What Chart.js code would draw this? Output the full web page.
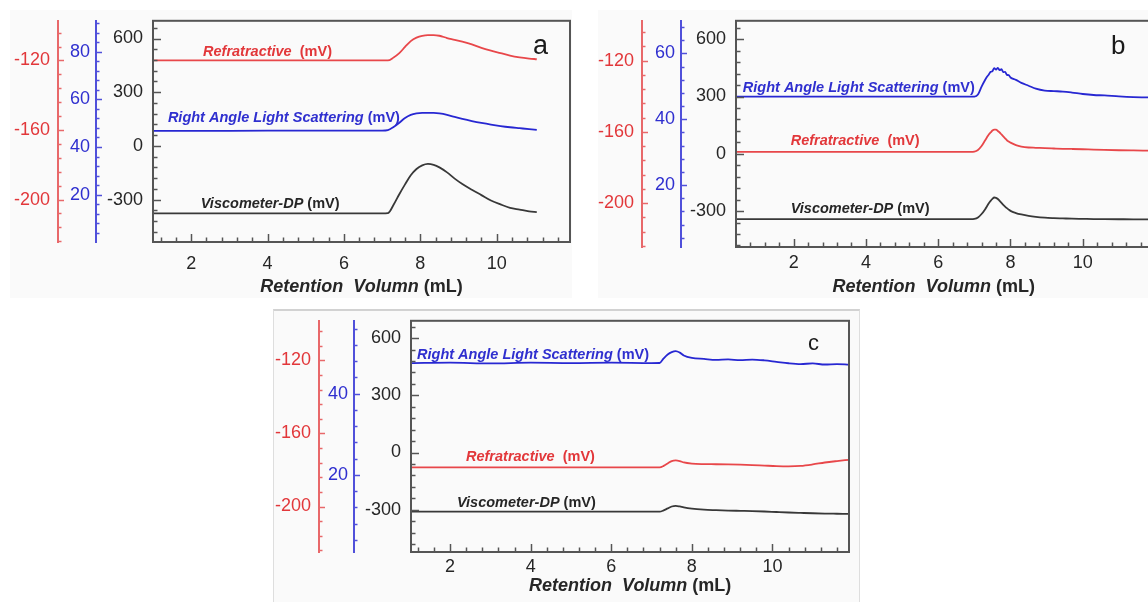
<!DOCTYPE html>
<html><head><meta charset="utf-8">
<script src="https://cdn.jsdelivr.net/npm/chart.js@4.4.1/dist/chart.umd.min.js"></script>
<style>
html,body{margin:0;padding:0;background:#fff;width:1148px;height:602px;overflow:hidden;position:relative;}
.panel{position:absolute;background:#fafafa;box-sizing:border-box;}
canvas{position:absolute;}
</style></head><body>
<div class="panel" style="left:10px;top:10px;width:562px;height:288px;"></div>
<div class="panel" style="left:598px;top:10px;width:552px;height:288px;"></div>
<div class="panel" style="left:273px;top:309px;width:587px;height:293px;border-top:2px solid #d2d2d2;border-left:1px solid #dedede;border-right:1px solid #dedede;"></div>
<canvas id="ca" width="585" height="300" style="left:0;top:0"></canvas>
<canvas id="cb" width="590" height="300" style="left:590px;top:0"></canvas>
<canvas id="cc" width="590" height="302" style="left:270px;top:300px"></canvas>
<script>
// ---------- data (retention volume in mL, detector signals in mV) ----------
// Panel a
const volA  = [1.0, 3.0, 5.0, 7.0, 7.15, 7.3, 7.45, 7.6, 7.75, 7.9, 8.05, 8.2, 8.35, 8.5, 8.7, 8.9, 9.1, 9.35, 9.6, 9.85, 10.1, 10.35, 10.6, 10.85, 11.05];
const refrA = [-120, -120, -120, -120, -120, -118.3, -115.8, -112.2, -108.9, -106.9, -105.8, -105.4, -105.4, -105.8, -107.1, -108.1, -109.2, -110.8, -112.8, -114.4, -115.8, -117.2, -118.2, -118.9, -119.3];
const ralsA = [46.8, 46.8, 46.9, 46.9, 47.1, 48.4, 50.2, 52.2, 53.5, 54.1, 54.3, 54.3, 54.3, 54.1, 53.5, 52.6, 51.8, 50.9, 50.1, 49.4, 48.8, 48.3, 47.9, 47.5, 47.2];
const viscA = [-377, -377, -377, -377, -376, -329, -270, -215, -164, -129, -109, -101, -106, -120, -148, -183, -213, -245, -275, -305, -327, -346, -356, -366, -370];
// Panel b
const volB  = [0.4, 2, 4, 6, 6.9, 7.0, 7.1, 7.2, 7.3, 7.35, 7.4, 7.45, 7.5, 7.55, 7.6, 7.65, 7.7, 7.75, 7.8, 7.85, 7.9, 7.95, 8.0, 8.15, 8.3, 8.5, 8.7, 8.95, 9.2, 9.45, 9.7, 10.0, 10.3, 10.6, 11.0, 11.4, 11.9];
const refrB = [-171.25, -171.25, -171.25, -171.25, -171.25, -171.09, -170.16, -167.98, -164.71, -163.08, -161.44, -160.35, -159.26, -158.71, -158.71, -159.53, -160.35, -161.44, -162.53, -163.62, -164.71, -165.42, -166.07, -167.44, -168.26, -168.8, -168.96, -169.18, -169.35, -169.51, -169.62, -169.78, -170.0, -170.16, -170.33, -170.44, -170.55];
const ralsB = [46.87, 46.87, 46.87, 46.87, 46.87, 46.9, 47.5, 49.9, 51.99, 52.9, 53.6, 54.4, 54.6, 55.5, 55.1, 55.6, 54.9, 55.2, 54.3, 54.4, 53.5, 53.4, 52.68, 51.95, 51.06, 50.18, 49.29, 48.7, 48.55, 48.41, 48.11, 47.67, 47.37, 47.23, 46.93, 46.73, 46.64];
const viscB = [-342.1, -342.1, -342.1, -342.1, -342.1, -340.6, -333.0, -315.2, -289.8, -274.5, -259.3, -246.6, -236.4, -228.8, -230.3, -236.4, -246.6, -256.7, -266.9, -276.1, -284.7, -292.3, -298.9, -310.1, -317.7, -325.4, -330.5, -334.5, -336.6, -338.1, -339.6, -340.6, -341.6, -342.1, -342.6, -343.1, -343.1];
// Panel c
const volC  = [1.03, 2, 3, 4, 5, 6, 7.0, 7.2, 7.3, 7.4, 7.5, 7.6, 7.7, 7.8, 8.0, 8.3, 8.6, 8.9, 9.2, 9.5, 9.8, 10.1, 10.4, 10.7, 11.0, 11.3, 11.6, 11.9];
const refrC = [-178.54, -178.54, -178.54, -178.54, -178.54, -178.54, -178.54, -178.54, -177.75, -176.42, -175.1, -174.73, -175.1, -175.89, -176.53, -176.79, -176.85, -176.95, -177.11, -177.32, -177.59, -177.85, -177.96, -177.75, -176.95, -175.89, -175.1, -174.41];
const ralsC = [47.5, 47.6, 47.4, 47.6, 47.5, 47.6, 47.5, 47.52, 48.64, 49.6, 50.19, 50.43, 50.07, 49.36, 48.76, 48.52, 48.29, 48.4, 48.21, 48.36, 48.17, 47.81, 47.45, 47.26, 47.4, 47.14, 47.26, 47.1];
const viscC = [-310.2, -310.2, -310.2, -310.2, -310.2, -310.2, -310.2, -310.2, -303.6, -293.4, -283.2, -279.7, -283.2, -288.3, -294.9, -300.0, -302.5, -304.6, -306.1, -307.6, -309.6, -312.2, -314.7, -316.8, -318.8, -320.3, -321.3, -322.3];

// tick labels
const xTickLabels     = [2, 4, 6, 8, 10];
const blackTickLabels = [-300, 0, 300, 600];
const redTickLabels   = [-120, -160, -200];
const blueTickLabelsA = [20, 40, 60, 80];
const blueTickLabelsB = [20, 40, 60];
const blueTickLabelsC = [20, 40];

// series names
const nameRefr = 'Refratractive';
const nameRals = 'Right Angle Light Scattering';
const nameVisc = 'Viscometer-DP';
const unitMv = '(mV)';
const xTitleMain = 'Retention  Volumn';
const xTitleUnit = '(mL)';

// ---------- styling ----------
const FONT = '"Liberation Sans", Arial, sans-serif';
const RED_LINE = '#e8474a', RED_TXT = '#e2373a', RED_AXIS = '#e8686a';
const BLUE_LINE = '#2727d2', BLUE_TXT = '#2f2fcf', BLUE_AXIS = '#5050da';
const BLACK_LINE = '#383838', DARK_TXT = '#262626', FRAME = '#555555';

const decor = {
  id: 'decor',
  afterDraw(chart) {
    const o = chart.options.plugins.decor;
    const ctx = chart.ctx, ca = chart.chartArea;
    ctx.save();
    // inward tick marks on the three y axes
    const yDefs = [['yr', RED_AXIS, 6, 3.5], ['yb', BLUE_AXIS, 6, 3.5], ['y', FRAME, 8, 4.5]];
    yDefs.forEach(([id, col, maj, min]) => {
      const s = chart.scales[id];
      const x0 = id === 'y' ? ca.left : s.right;
      ctx.strokeStyle = col; ctx.lineWidth = 1.5;
      s.ticks.forEach(t => {
        const len = t.label !== '' ? maj : min;
        const py = Math.round(s.getPixelForValue(t.value)) + 0.5;
        ctx.beginPath(); ctx.moveTo(x0, py); ctx.lineTo(x0 + len, py); ctx.stroke();
      });
    });
    const sx = chart.scales.x;
    ctx.strokeStyle = FRAME; ctx.lineWidth = 1.5;
    sx.ticks.forEach(t => {
      const len = t.label !== '' ? 8 : 4.5;
      const px = Math.round(sx.getPixelForValue(t.value)) + 0.5;
      ctx.beginPath(); ctx.moveTo(px, ca.bottom); ctx.lineTo(px, ca.bottom - len); ctx.stroke();
    });
    // frame
    ctx.strokeStyle = FRAME; ctx.lineWidth = 2;
    ctx.strokeRect(ca.left, ca.top, ca.right - ca.left, ca.bottom - ca.top);
    // curve labels
    const sy = chart.scales.y;
    ctx.textBaseline = 'alphabetic'; ctx.textAlign = 'left';
    o.notes.forEach(n => {
      let x = sx.getPixelForValue(n.x);
      const y = sy.getPixelForValue(n.y);
      ctx.fillStyle = n.color;
      n.parts.forEach(([txt, it]) => {
        ctx.font = (it ? 'italic ' : '') + 'bold 14.5px ' + FONT;
        ctx.fillText(txt, x, y);
        x += ctx.measureText(txt).width;
      });
    });
    // panel letter
    ctx.fillStyle = '#1a1a1a';
    ctx.font = o.letter.size + 'px ' + FONT;
    ctx.fillText(o.letter.text, sx.getPixelForValue(o.letter.x), sy.getPixelForValue(o.letter.y));
    // x axis title
    const parts = [[xTitleMain, true], [' ' + xTitleUnit, false]];
    let w = 0;
    parts.forEach(([t, it]) => { ctx.font = (it ? 'italic ' : '') + 'bold 18px ' + FONT; w += ctx.measureText(t).width; });
    let tx = sx.getPixelForValue(o.titleX) - w / 2;
    const ty = ca.bottom + o.titleDy;
    ctx.fillStyle = DARK_TXT;
    parts.forEach(([t, it]) => {
      ctx.font = (it ? 'italic ' : '') + 'bold 18px ' + FONT;
      ctx.fillText(t, tx, ty);
      tx += ctx.measureText(t).width;
    });
    ctx.restore();
  }
};

function labelCb(majors) {
  return function (v) {
    const r = Math.round(v * 100) / 100;
    return majors.includes(r) ? String(r) : '';
  };
}

function yAxis(min, max, step, majors, color, txtColor, weight, width, pad, border) {
  return {
    position: 'left', weight: weight, min: min, max: max,
    grid: {display: false, drawTicks: false},
    border: {display: border, color: color, width: 2},
    ticks: {stepSize: step, autoSkip: false, includeBounds: false, maxTicksLimit: 1000,
      padding: pad, color: txtColor,
      font: {family: FONT, size: 18}, callback: labelCb(majors)},
    afterFit: s => { s.width = width; }
  };
}

function buildChart(id, P) {
  const ds = (ys, axis, color) => ({
    data: P.vol.map((x, i) => ({x: x, y: ys[i]})), yAxisID: axis,
    borderColor: color, borderWidth: 1.8, pointRadius: 0, tension: 0.4,
    cubicInterpolationMode: 'monotone', fill: false
  });
  new Chart(document.getElementById(id), {
    type: 'line',
    data: {datasets: [ds(P.refr, 'yr', RED_LINE), ds(P.rals, 'yb', BLUE_LINE), ds(P.visc, 'y', BLACK_LINE)]},
    options: {
      responsive: false, animation: false, devicePixelRatio: 1,
      layout: {padding: {left: 0, top: P.top, right: P.right, bottom: 0}},
      plugins: {legend: {display: false}, tooltip: {enabled: false},
        decor: {notes: P.notes, letter: P.letter, titleX: P.titleX, titleDy: P.titleDy}},
      scales: {
        x: {type: 'linear', position: 'bottom', min: P.xmin, max: P.xmax,
          grid: {display: false, drawTicks: false}, border: {display: false},
          ticks: {stepSize: 0.4, autoSkip: false, includeBounds: false, maxTicksLimit: 1000,
            maxRotation: 0, minRotation: 0, padding: P.xpad, color: DARK_TXT,
            font: {family: FONT, size: 18}, callback: labelCb(xTickLabels)},
          afterFit: s => { s.height = P.xh; }},
        y: yAxis(P.kMin, P.kMax, 60, blackTickLabels, FRAME, DARK_TXT, 0, P.wK, 10, false),
        yb: yAxis(P.bMin, P.bMax, 4, P.blueLabels, BLUE_AXIS, BLUE_TXT, 1, P.wB, 6, true),
        yr: yAxis(P.rMin, P.rMax, 8, redTickLabels, RED_AXIS, RED_TXT, 2, P.wR, 8, true)
      }
    },
    plugins: [decor]
  });
}

const notesFor = (r, b, k) => [
  {x: r[0], y: r[1], color: RED_TXT, parts: [[nameRefr, true], ['  ' + unitMv, false]]},
  {x: b[0], y: b[1], color: BLUE_TXT, parts: [[nameRals, true], [' ' + unitMv, false]]},
  {x: k[0], y: k[1], color: DARK_TXT, parts: [[nameVisc, true], [' ' + unitMv, false]]}
];

buildChart('ca', {
  vol: volA, refr: refrA, rals: ralsA, visc: viscA,
  xmin: 1.0, xmax: 11.92, kMin: -537, kMax: 699, rMin: -224.4, rMax: -97.2, bMin: 0.1, bMax: 93,
  blueLabels: blueTickLabelsA, top: 14, right: 15, xh: 58, xpad: 11,
  wR: 58, wB: 38, wK: 57,
  notes: notesFor([2.31, 504], [1.39, 135], [2.25, -347]),
  letter: {text: 'a', size: 27, x: 10.95, y: 515},
  titleX: 6.46, titleDy: 50
});
buildChart('cb', {
  vol: volB, refr: refrB, rals: ralsB, visc: viscB,
  xmin: 0.405, xmax: 11.86, kMin: -488, kMax: 696.6, rMin: -224.7, rMax: -97.6, bMin: 1.2, bMax: 69.9,
  blueLabels: blueTickLabelsB, top: 14, right: 30, xh: 53, xpad: 5,
  wR: 52, wB: 39, wK: 55,
  notes: notesFor([1.918, 45.8], [0.594, 325.5], [1.918, -307.5]),
  letter: {text: 'b', size: 26, x: 10.78, y: 522},
  titleX: 5.876, titleDy: 44.7
});
buildChart('cc', {
  vol: volC, refr: refrC, rals: ralsC, visc: viscC,
  xmin: 1.03, xmax: 11.9, kMin: -522, kMax: 691, rMin: -224.9, rMax: -98.3, bMin: 1.0, bMax: 57.9,
  blueLabels: blueTickLabelsC, top: 13, right: 11, xh: 50, xpad: 4,
  wR: 49, wB: 35, wK: 57,
  notes: notesFor([2.395, -42.3], [1.18, 488], [2.17, -283.4]),
  letter: {text: 'c', size: 22, x: 10.88, y: 537},
  titleX: 6.47, titleDy: 39
});
</script>
</body></html>
